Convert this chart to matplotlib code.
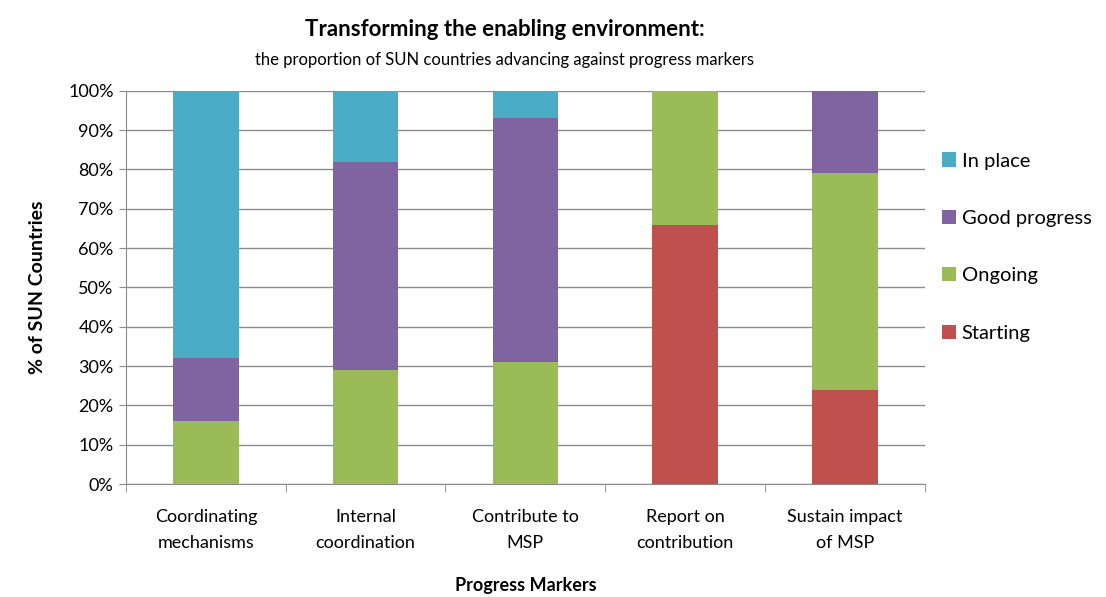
import matplotlib
matplotlib.use("Agg")
import matplotlib.pyplot as plt
import numpy as np

plt.rcParams['font.family'] = ['Lato', 'DejaVu Sans']

categories = ['Coordinating\nmechanisms', 'Internal\ncoordination', 'Contribute to\nMSP',
              'Report on\ncontribution', 'Sustain impact\nof MSP']
series = ['Starting', 'Ongoing', 'Good progress', 'In place']
starting = [0, 0, 0, 66, 24]
ongoing = [16, 29, 31, 34, 55]
good_progress = [16, 53, 62, 0, 21]
in_place = [68, 18, 7, 0, 0]
colors = ['#C0504D', '#9BBB59', '#8064A2', '#4BACC6']

fig = plt.figure(figsize=(11.06, 5.97), dpi=100)
ax = fig.add_axes([0.114, 0.189, 0.722, 0.659])

x = np.arange(len(categories))
bottom = np.zeros(len(categories))
handles = []
for name, vals, col in zip(series, [starting, ongoing, good_progress, in_place], colors):
    b = ax.bar(x, vals, 0.41, bottom=bottom, color=col, label=name, zorder=3)
    handles.append(b)
    bottom += np.array(vals)

ax.set_xlim(-0.5, len(categories) - 0.5)
ax.set_ylim(0, 100)
ax.set_yticks(np.arange(0, 101, 10))
ax.set_yticklabels([f'{v}%' for v in range(0, 101, 10)], fontsize=13)
ax.yaxis.grid(True, color='#8c8c8c', linewidth=1, zorder=0)
ax.set_axisbelow(True)

ax.set_xticks(x)
ax.set_xticklabels(categories, fontsize=13, linespacing=1.75)
ax.set_xticks(np.arange(-0.5, len(categories)), minor=True)
ax.tick_params(axis='x', which='major', length=0, pad=18)
ax.tick_params(axis='x', which='minor', length=6, color='#8c8c8c')
ax.tick_params(axis='y', length=5, color='#8c8c8c', pad=4)

for s in ['top', 'right']:
    ax.spines[s].set_visible(False)
for s in ['left', 'bottom']:
    ax.spines[s].set_color('#8c8c8c')

ax.set_ylabel('% of SUN Countries', fontsize=14, fontweight='bold', labelpad=16)
ax.set_xlabel('Progress Markers', fontsize=13, fontweight='bold', labelpad=19)

fig.text(0.456, 0.950, 'Transforming the enabling environment:', ha='center', va='center',
         fontsize=16, fontweight='bold')
fig.text(0.456, 0.900, 'the proportion of SUN countries advancing against progress markers',
         ha='center', va='center', fontsize=12)

leg = fig.legend(handles[::-1], series[::-1], loc='upper left', bbox_to_anchor=(0.835, 0.775),
                 frameon=False, fontsize=14.5, handlelength=0.7, handleheight=0.7,
                 handletextpad=0.3, labelspacing=2.0)

fig.savefig('out.png', dpi=100)
